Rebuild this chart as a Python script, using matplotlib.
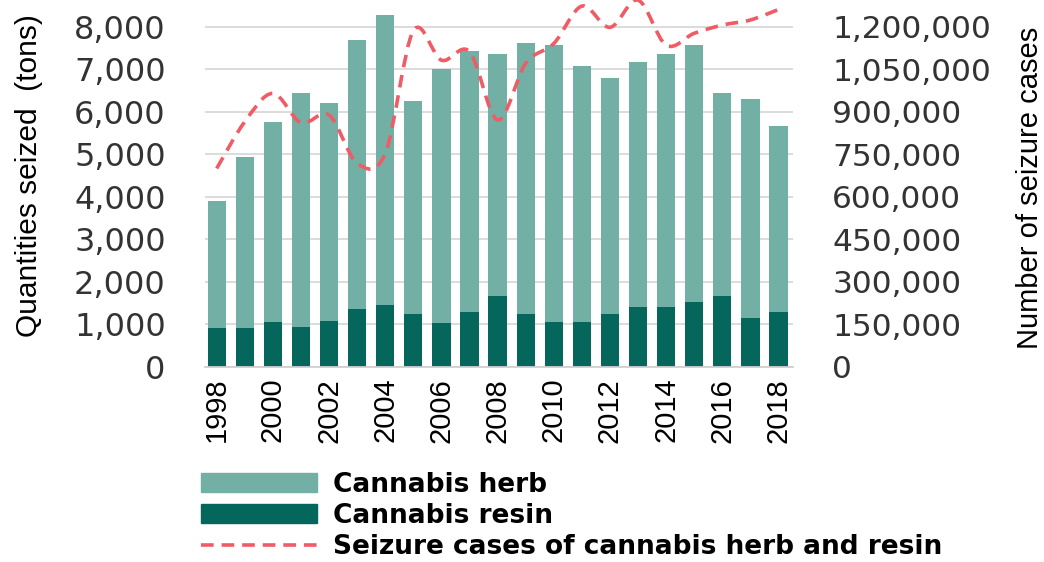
import matplotlib
matplotlib.use('Agg')
import matplotlib.pyplot as plt
import numpy as np
from matplotlib.path import Path
from matplotlib.patches import PathPatch, Patch
from matplotlib.lines import Line2D
from matplotlib.ticker import FuncFormatter

years = list(range(1998, 2019))
total_tons = [3900, 4930, 5750, 6450, 6210, 7690, 8280, 6250, 7000, 7440, 7350,
              7610, 7570, 7080, 6790, 7160, 7350, 7560, 6450, 6290, 5670]
resin_tons = [900, 900, 1060, 940, 1075, 1365, 1450, 1240, 1020, 1280, 1660,
              1240, 1060, 1060, 1240, 1410, 1410, 1530, 1660, 1150, 1280]
herb_tons = [t - r for t, r in zip(total_tons, resin_tons)]
seizure_cases = [700000, 865000, 965000, 861000, 888000, 718000, 753000, 1186000,
                 1082000, 1112000, 871000, 1071000, 1141000, 1273000, 1198000,
                 1294000, 1135000, 1177000, 1206000, 1224000, 1261000]

herb_color = '#72B0A5'
resin_color = '#05665C'
line_color = '#EF5C66'
tick_font = ['DejaVu Sans']
label_font = ['Liberation Sans Narrow', 'Liberation Sans', 'DejaVu Sans']


def smooth_path(xs, ys):
    # Catmull-Rom style smoothing (like a spreadsheet "smoothed line")
    pts = np.column_stack([xs, ys]).astype(float)
    verts = [pts[0]]
    codes = [Path.MOVETO]
    n = len(pts)
    for i in range(n - 1):
        p0 = pts[i - 1] if i > 0 else pts[i]
        p1 = pts[i]
        p2 = pts[i + 1]
        p3 = pts[i + 2] if i + 2 < n else pts[i + 1]
        c1 = p1 + (p2 - p0) / 6.0
        c2 = p2 - (p3 - p1) / 6.0
        verts += [c1, c2, p2]
        codes += [Path.CURVE4] * 3
    return Path(verts, codes)


fig = plt.figure(figsize=(10.44, 5.62), dpi=100)
ax = fig.add_axes([0.196, 0.3475, 0.564, 0.6525])
x = np.arange(len(years))
width = 0.65

ax.bar(x, resin_tons, width, color=resin_color, zorder=2)
ax.bar(x, herb_tons, width, bottom=resin_tons, color=herb_color, zorder=2)

ymax = 8630
ax.set_ylim(0, ymax)
ax.set_xlim(-0.43, len(years) - 1 + 0.53)
ax.set_yticks(range(0, 8001, 1000))
ax.yaxis.set_major_formatter(FuncFormatter(lambda v, p: f'{int(v):,}'))
ax.grid(axis='y', color='#D9D9D9', linewidth=1.3, zorder=0)
ax.set_axisbelow(True)
ax.set_xticks(x[::2])
ax.set_xticklabels([str(y) for y in years[::2]], rotation=90,
                   family=['Liberation Sans', 'DejaVu Sans'], fontsize=21)
for side in ['top', 'left', 'right']:
    ax.spines[side].set_visible(False)
ax.spines['bottom'].set_color('#D0D0D0')
ax.spines['bottom'].set_linewidth(1.3)
ax.tick_params(axis='both', length=0)
ax.tick_params(axis='y', labelsize=23, pad=28, colors='#333333')
ax.tick_params(axis='x', pad=8)
for t in ax.get_yticklabels():
    t.set_family(tick_font)
ax.set_ylabel('Quantities seized  (tons)', family=label_font, fontsize=21.5)
ax.yaxis.set_label_coords(-0.298, 0.52)
ax.yaxis.label.set_va('center')

ax2 = ax.twinx()
ax2.set_ylim(0, ymax * 150)
ax2.set_yticks(range(0, 1200001, 150000))
ax2.yaxis.set_major_formatter(FuncFormatter(lambda v, p: f'{int(v):,}'))
for side in ['top', 'left', 'right', 'bottom']:
    ax2.spines[side].set_visible(False)
ax2.tick_params(axis='y', length=0, labelsize=22.5, pad=28, colors='#333333')
for t in ax2.get_yticklabels():
    t.set_family(tick_font)
ax2.set_ylabel('Number of seizure cases', family=label_font, fontsize=21)
ax2.yaxis.set_label_coords(1.402, 0.487)
ax2.yaxis.label.set_va('center')

path = smooth_path(x, seizure_cases)
ax2.add_patch(PathPatch(path, facecolor='none', edgecolor=line_color,
                        linewidth=2.6, linestyle=(0, (3.5, 2.2)), clip_on=False))

handles = [Patch(color=herb_color), Patch(color=resin_color),
           Line2D([], [], color=line_color, linewidth=2.6, linestyle=(0, (3.5, 2.2)))]
labels = ['Cannabis herb', 'Cannabis resin', 'Seizure cases of cannabis herb and resin']
fig.legend(handles, labels, loc='upper left', bbox_to_anchor=(0.1926, 0.161),
           frameon=False, prop={'family': ['DejaVu Sans'], 'weight': 'bold', 'size': 19},
           handlelength=4.4, handleheight=0.75, labelspacing=0.2, handletextpad=0.6,
           borderaxespad=0, borderpad=0)

fig.savefig('out.png', dpi=100)
